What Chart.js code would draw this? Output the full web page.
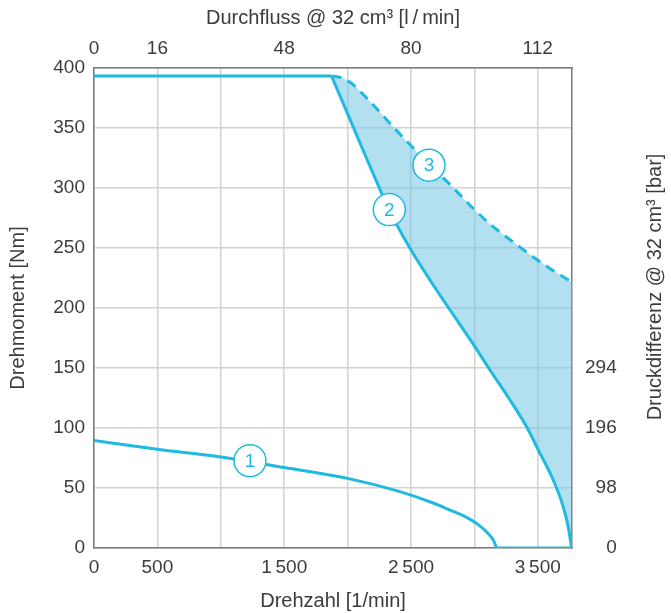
<!DOCTYPE html>
<html>
<head>
<meta charset="utf-8">
<script src="https://cdn.jsdelivr.net/npm/chart.js@4/dist/chart.umd.min.js"></script>
<style>
  body { margin: 0; background: #fff; }
  #chart { display: block; }
</style>
</head>
<body>
<canvas id="chart" width="671" height="613"></canvas>
<script>
// curve 1
const rpm1 = [0, 500, 1000, 1500, 2000, 2413, 2676, 2800, 2939, 3030, 3100, 3150, 3175];
const torque1 = [89.5, 82.2, 75.8, 67, 58, 47, 37.5, 32, 25.5, 19.5, 13, 6.5, 0];
const rpm1Zero = [3175, 3770];
const torque1Zero = [0, 0];

// curve 2 (solid) and its flat part
const rpmFlat = [0, 1874];
const torqueFlat = [393.3, 393.3];
const rpm2 = [1874, 2269, 2329, 2492, 2702, 3004, 3123, 3281, 3412, 3504, 3622, 3701, 3740, 3767];
const torque2 = [393.3, 295.6, 281.5, 249.7, 215, 167.8, 148.3, 123.3, 101, 81.7, 56.7, 34.4, 17.8, 0];

// curve 3 (dashed)
const rpm3 = [1874, 1950, 2032, 2177, 2321, 2466, 2642, 2807, 2991, 3123, 3281, 3438, 3596, 3770];
const torque3 = [393.3, 392, 387.2, 372, 355.5, 339, 320, 303, 283, 270, 257, 244.5, 233, 221.5];

// circled numbers
const labelRpm = [1230, 2329, 2642];
const labelTorque = [72.8, 282, 319];
const labelText = ['1', '2', '3'];

// axis ticks
const rpmTicks = [0, 500, 1000, 1500, 2000, 2500, 3000, 3500];
const rpmTickText = ['0', '500', '', '1\u2009500', '', '2\u2009500', '', '3\u2009500'];
const flowTicks = [0, 16, 48, 80, 112];
const torqueTicks = [0, 50, 100, 150, 200, 250, 300, 350, 400];
const pressureTicks = [0, 98, 196, 294];

const rpmMax = 3770;
const lineColor = '#1fbadf';
const textColor = '#3c3c3c';
const fontFamily = '"Liberation Sans", Arial, sans-serif';

const pts = (xs, ys) => xs.map((v, i) => ({ x: v, y: ys[i] }));
const setTicks = values => s => { s.ticks = values.map(v => ({ value: v })); };

const curveLabels = {
  id: 'curveLabels',
  afterDatasetsDraw(chart) {
    const { ctx, scales: { x, y } } = chart;
    ctx.save();
    ctx.font = '19px ' + fontFamily;
    ctx.fillStyle = lineColor;
    ctx.textAlign = 'center';
    ctx.textBaseline = 'middle';
    labelRpm.forEach((v, i) => {
      ctx.fillText(labelText[i], x.getPixelForValue(v), y.getPixelForValue(labelTorque[i]) + 1);
    });
    ctx.restore();
  },
  afterDraw(chart) {
    const ctx = chart.ctx;
    ctx.save();
    ctx.translate(655, 287);
    ctx.rotate(-Math.PI / 2);
    ctx.font = '20px ' + fontFamily;
    ctx.fillStyle = textColor;
    ctx.textAlign = 'center';
    ctx.textBaseline = 'middle';
    ctx.fillText('Druckdifferenz @ 32 cm³ [bar]', 0, 0);
    ctx.restore();
  }
};

const line = (data, extra) => Object.assign({
  type: 'line',
  data: data,
  borderColor: lineColor,
  borderWidth: 3,
  pointRadius: 0,
  fill: false,
  cubicInterpolationMode: 'monotone',
  order: 2
}, extra);

new Chart('chart', {
  type: 'line',
  data: {
    datasets: [
      line(pts(rpm1, torque1)),
      line(pts(rpm2, torque2)),
      line(pts(rpm3, torque3), {
        borderDash: [10, 7],
        fill: { target: 1 },
        backgroundColor: 'rgba(115, 199, 228, 0.55)'
      }),
      line(pts(rpmFlat, torqueFlat)),
      line(pts(rpm1Zero, torque1Zero)),
      {
        type: 'scatter',
        data: pts(labelRpm, labelTorque),
        pointRadius: 16,
        pointHoverRadius: 16,
        pointBackgroundColor: '#fff',
        pointBorderColor: lineColor,
        pointBorderWidth: 1.5,
        order: 0
      }
    ]
  },
  options: {
    responsive: false,
    animation: false,
    layout: { padding: 0 },
    plugins: { legend: { display: false }, tooltip: { enabled: false } },
    scales: {
      x: {
        type: 'linear',
        position: 'bottom',
        min: 0,
        max: rpmMax,
        afterFit: s => { s.height = 65; },
        afterBuildTicks: setTicks(rpmTicks),
        ticks: {
          autoSkip: false,
          maxRotation: 0,
          padding: 8,
          color: textColor,
          font: { family: fontFamily, size: 19 },
          callback: v => rpmTickText[rpmTicks.indexOf(v)]
        },
        grid: { color: '#d2d2d2', lineWidth: 1.5, drawTicks: false },
        border: { color: '#7a7a7a', width: 1.5 },
        title: {
          display: true,
          text: 'Drehzahl [1/min]',
          color: textColor,
          font: { family: fontFamily, size: 20 },
          padding: { top: 1, bottom: 0 }
        }
      },
      xTop: {
        type: 'linear',
        position: 'top',
        min: 0,
        max: rpmMax * 32 / 1000,
        afterFit: s => { s.height = 68; },
        afterBuildTicks: setTicks(flowTicks),
        ticks: {
          autoSkip: false,
          maxRotation: 0,
          padding: 8,
          color: textColor,
          font: { family: fontFamily, size: 19 }
        },
        grid: { color: 'transparent', drawTicks: false },
        border: { color: '#7a7a7a', width: 1.5 },
        title: {
          display: true,
          text: 'Durchfluss @ 32 cm³ [l\u2009/\u2009min]',
          color: textColor,
          font: { family: fontFamily, size: 20 },
          padding: { top: 6, bottom: 0 }
        }
      },
      y: {
        type: 'linear',
        position: 'left',
        min: 0,
        max: 400,
        afterFit: s => { s.width = 94; },
        afterBuildTicks: setTicks(torqueTicks),
        ticks: {
          padding: 9,
          color: textColor,
          font: { family: fontFamily, size: 19 }
        },
        grid: { color: '#d2d2d2', lineWidth: 1.5, drawTicks: false },
        border: { color: '#7a7a7a', width: 1.5 },
        title: {
          display: true,
          text: 'Drehmoment [Nm]',
          color: textColor,
          font: { family: fontFamily, size: 20 },
          padding: { top: 6, bottom: 0 }
        }
      },
      yRight: {
        type: 'linear',
        position: 'right',
        min: 0,
        max: 400 * 1.96,
        afterFit: s => { s.width = 99; },
        afterBuildTicks: setTicks(pressureTicks),
        ticks: {
          padding: 13,
          crossAlign: 'near',
          color: textColor,
          font: { family: fontFamily, size: 19 },
          callback: v => String(v).padStart(3, '\u2007')
        },
        grid: { color: 'transparent', drawTicks: false },
        border: { color: '#7a7a7a', width: 1.5 }
      }
    }
  },
  plugins: [curveLabels]
});
</script>
</body>
</html>
